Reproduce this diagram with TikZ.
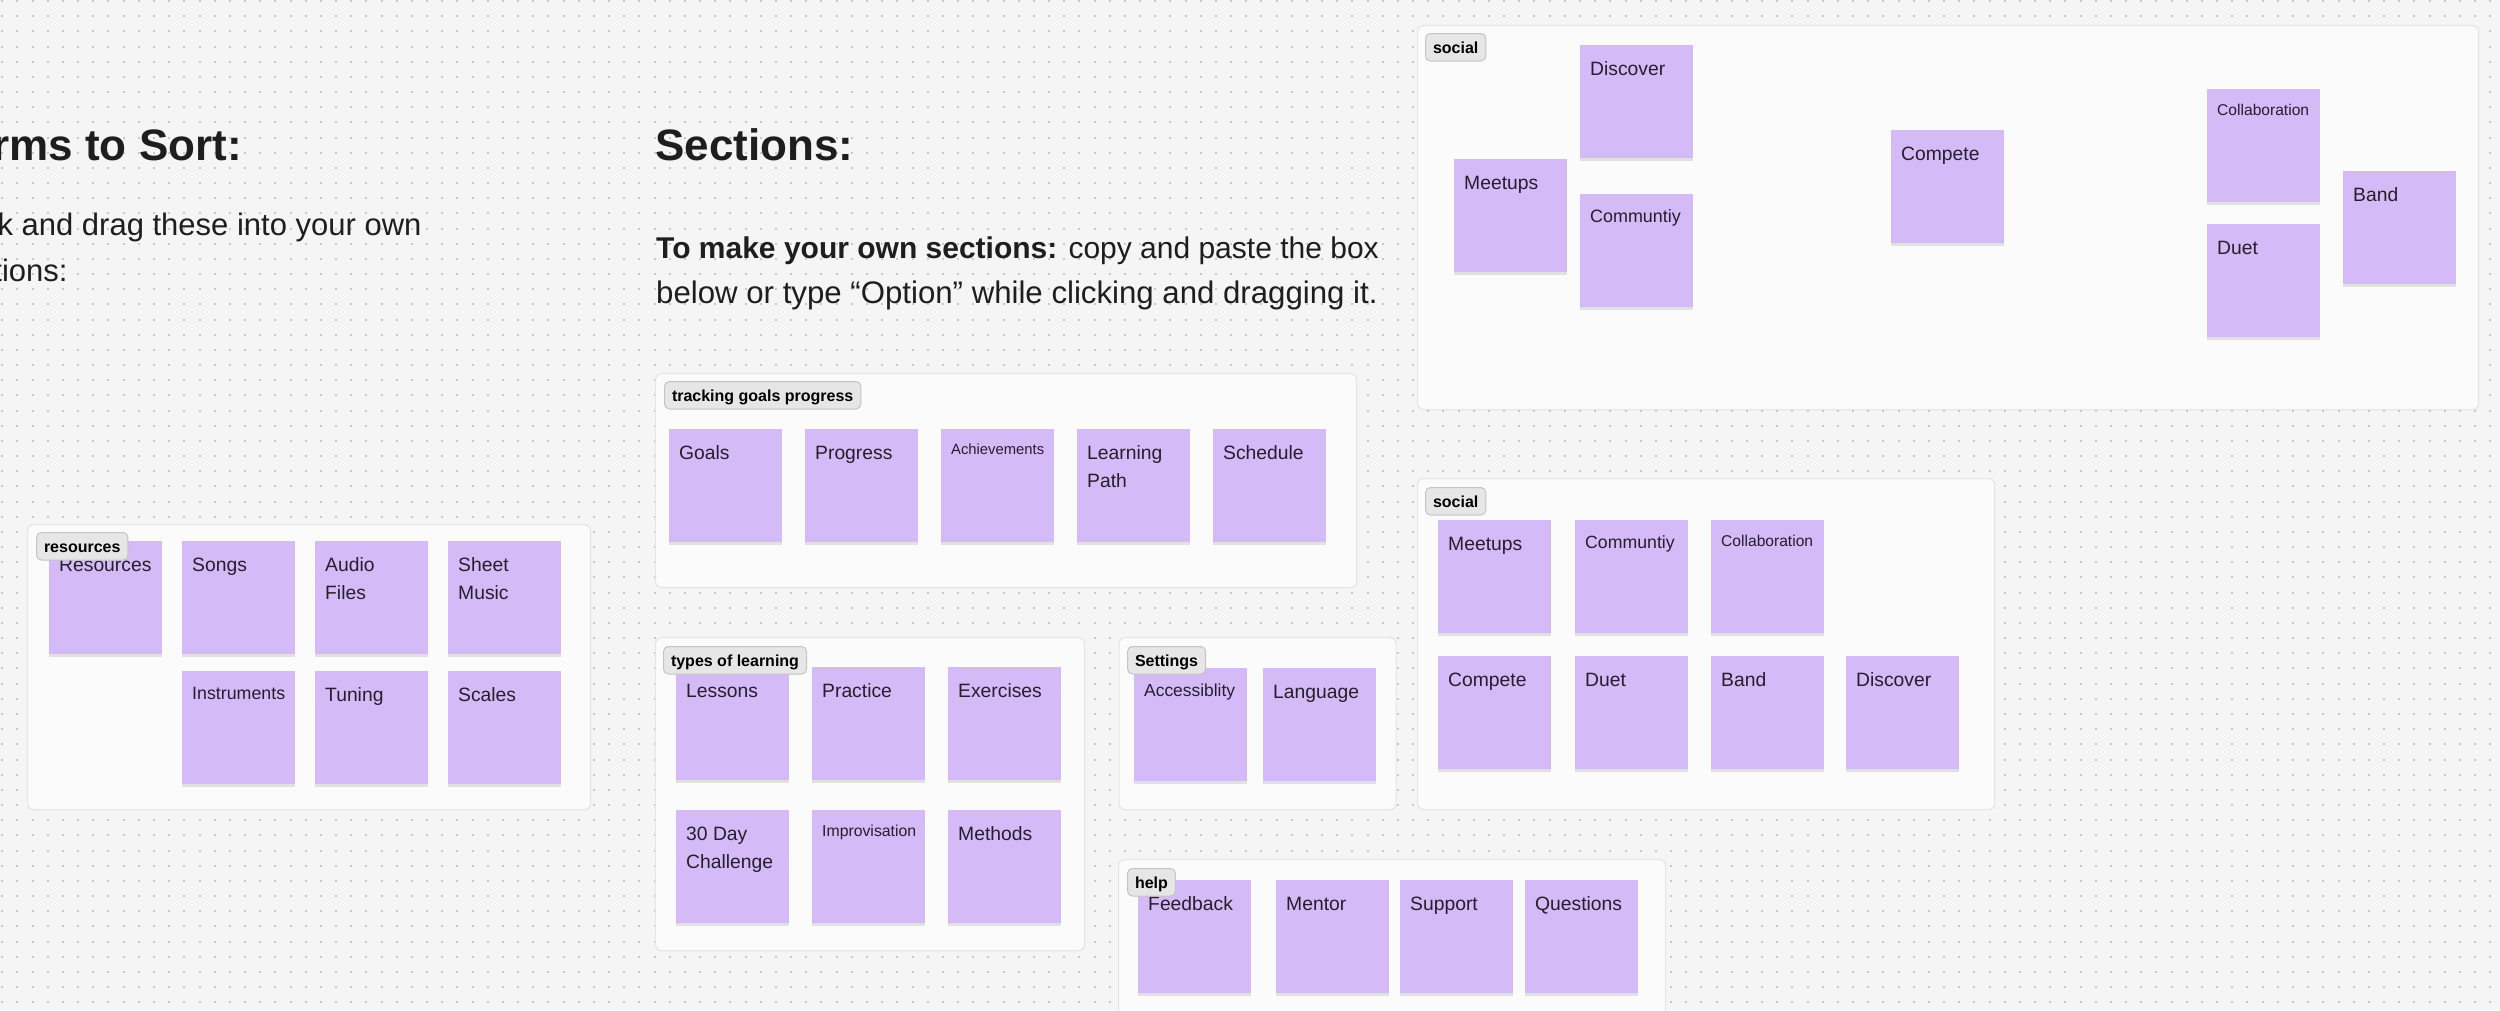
\documentclass[tikz,border=0pt]{standalone}
\usepackage{fontspec}
\setmainfont{Liberation Sans}
\usepackage{xcolor}
\usetikzlibrary{shadows}
\definecolor{canvasbg}{RGB}{245,245,245}
\definecolor{gridgray}{RGB}{200,200,200}
\definecolor{boxfill}{RGB}{251,251,251}
\definecolor{boxline}{RGB}{229,229,229}
\definecolor{tagfill}{RGB}{230,230,230}
\definecolor{tagline}{RGB}{196,196,196}
\definecolor{stickyfill}{RGB}{213,186,248}
\definecolor{inkdark}{RGB}{30,30,30}
\definecolor{stickyink}{RGB}{38,30,44}
% #1 font size, #2 name, #3 x, #4 y (top left), #5 text
\newcommand{\stickynote}[5][19.3]{%
  \node[sticky] (#2) at (#3,#4) {};
  \node[stickylabel, font=\fontsize{#1pt}{28pt}\selectfont] (#2-txt)
    at ([xshift=10pt,yshift=-11pt-#1pt]#2.north west)
    {\parbox[t]{100pt}{\raggedright #5}};}

\begin{document}
\begin{tikzpicture}[x=1pt,y=-1pt,
    griddot/.style={draw=gridgray,line width=2pt,dash pattern=on 2pt off 13.17pt},
    section/.style={rectangle,anchor=north west,inner sep=0pt,rounded corners=6pt,
      fill=boxfill,draw=boxline,line width=1.2pt},
    sticky/.style={rectangle,anchor=north west,inner sep=0pt,minimum width=113pt,
      minimum height=113pt,fill=stickyfill,
      drop shadow={shadow xshift=0pt,shadow yshift=-2.5pt,opacity=0.10,fill=black}},
    stickylabel/.style={anchor=base west,inner sep=0pt,text=stickyink},
    tag/.style={rectangle,anchor=north west,rounded corners=5pt,fill=tagfill,
      draw=tagline,line width=1pt,inner xsep=7.5pt,inner ysep=0pt,
      minimum height=27.5pt,text height=14pt,text depth=1.5pt,text=black,
      font=\fontsize{16pt}{18pt}\selectfont\bfseries},
    heading/.style={inner sep=0pt,text=inkdark,font=\fontsize{44pt}{50pt}\selectfont\bfseries},
    bodytext/.style={inner sep=0pt,text=inkdark,font=\fontsize{31pt}{45pt}\selectfont}]
  \useasboundingbox (0,0) rectangle (2500,1010);
  \clip (0,0) rectangle (2500,1010);
  \fill[canvasbg] (0,0) rectangle (2500,1010);
  \foreach \r in {0,...,66}
    \draw[griddot] (1.3,{1+\r*15.17}) -- (2500,{1+\r*15.17});

  % texts
  \node[heading,anchor=base east] (sorttitle) at (242,160) {Terms to Sort:};
  \node[bodytext,anchor=base east] (sorthint1) at (421.7,235) {Click and drag these into your own};
  \node[bodytext,anchor=base east] (sorthint2) at (67.7,281) {sections:};
  \node[heading,anchor=base west] (secttitle) at (655,160) {Sections:};
  \node[bodytext,anchor=base west,font=\fontsize{30pt}{45pt}\selectfont] (secthint1) at (656,258)
    {{\bfseries To make your own sections:} copy and paste the box};
  \node[bodytext,anchor=base west,font=\fontsize{31.2pt}{45pt}\selectfont] (secthint2) at (656,303)
    {below or type “Option” while clicking and dragging it.};

  % sections
  \node[section,minimum width=563pt,minimum height=285pt] (resbox) at (27,524) {};
  \node[section,minimum width=701pt,minimum height=214pt] (trackbox) at (655,373) {};
  \node[section,minimum width=429pt,minimum height=313pt] (typesbox) at (655,637) {};
  \node[section,minimum width=277pt,minimum height=172pt] (setbox) at (1118.5,637) {};
  \node[section,minimum width=547pt,minimum height=200pt] (helpbox) at (1118,859) {};
  \node[section,minimum width=1061pt,minimum height=384pt] (socialboxA) at (1417,25) {};
  \node[section,minimum width=577pt,minimum height=331pt] (socialboxB) at (1417,478) {};

  % resources
  \stickynote{res}{49}{541}{Resources}
  \stickynote{songs}{182}{541}{Songs}
  \stickynote{audio}{315}{541}{Audio\\Files}
  \stickynote{sheet}{448}{541}{Sheet\\Music}
  \stickynote[17.8]{instr}{182}{671}{Instruments}
  \stickynote{tuning}{315}{671}{Tuning}
  \stickynote{scales}{448}{671}{Scales}

  % tracking goals progress
  \stickynote{goals}{669}{429}{Goals}
  \stickynote{progress}{805}{429}{Progress}
  \stickynote[14.8]{achieve}{941}{429}{Achievements}
  \stickynote{path}{1077}{429}{Learning\\Path}
  \stickynote{schedule}{1213}{429}{Schedule}

  % types of learning
  \stickynote{lessons}{676}{667}{Lessons}
  \stickynote{practice}{812}{667}{Practice}
  \stickynote{exercises}{948}{667}{Exercises}
  \stickynote{challenge}{676}{810}{30 Day\\Challenge}
  \stickynote[15.8]{improv}{812}{810}{Improvisation}
  \stickynote{methods}{948}{810}{Methods}

  % settings
  \stickynote[17.4]{access}{1134}{668}{Accessiblity}
  \stickynote{language}{1263}{668}{Language}

  % help
  \stickynote{feedback}{1138}{880}{Feedback}
  \stickynote{mentor}{1276}{880}{Mentor}
  \stickynote{support}{1400}{880}{Support}
  \stickynote{questions}{1525}{880}{Questions}

  % social, loose
  \stickynote{discoverA}{1580}{45}{Discover}
  \stickynote{meetupsA}{1454}{159}{Meetups}
  \stickynote[17.9]{communityA}{1580}{194}{Communtiy}
  \stickynote{competeA}{1891}{130}{Compete}
  \stickynote[15.6]{collabA}{2207}{89}{Collaboration}
  \stickynote{duetA}{2207}{224}{Duet}
  \stickynote{bandA}{2343}{171}{Band}

  % social, sorted
  \stickynote{meetupsB}{1438}{520}{Meetups}
  \stickynote[17.7]{communityB}{1575}{520}{Communtiy}
  \stickynote[15.6]{collabB}{1711}{520}{Collaboration}
  \stickynote{competeB}{1438}{656}{Compete}
  \stickynote{duetB}{1575}{656}{Duet}
  \stickynote{bandB}{1711}{656}{Band}
  \stickynote{discoverB}{1846}{656}{Discover}

  % section tags
  \node[tag] (restag) at (36,532) {resources};
  \node[tag] (tracktag) at (664,381) {tracking goals progress};
  \node[tag] (typestag) at (663,646) {types of learning};
  \node[tag] (settag) at (1127,646) {Settings};
  \node[tag] (helptag) at (1127,868) {help};
  \node[tag] (socialtagA) at (1425,33) {social};
  \node[tag] (socialtagB) at (1425,487) {social};
\end{tikzpicture}
\end{document}
